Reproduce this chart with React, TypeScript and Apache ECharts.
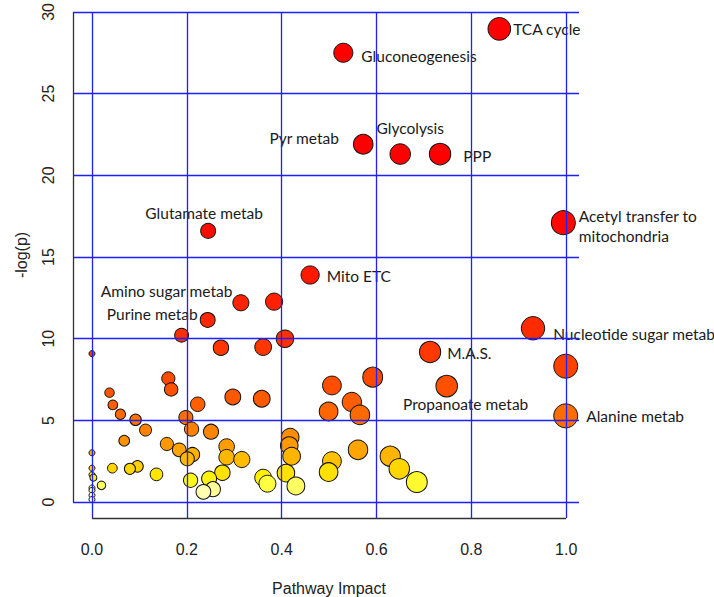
import React, { useEffect, useRef } from "react";
import * as echarts from "echarts";

// ---- data ----
const pathwayNames: string[] = [
  "TCA cycle", "Gluconeogenesis", "Pyr metab", "Glycolysis", "PPP",
  "Acetyl transfer to\nmitochondria", "Glutamate metab", "Mito ETC", "Amino sugar metab", "",
  "Purine metab", "", "", "", "",
  "Nucleotide sugar metab", "", "M.A.S.", "Alanine metab", "",
  "", "Propanoate metab", "", "", "",
  "", "", "", "", "",
  "", "", "", "", "",
  "", "", "", "", "",
  "", "", "", "", "",
  "", "", "", "", "",
  "", "", "", "", "",
  "", "", "", "", "",
  "", "", "", "", "",
  "", "", "", "", "",
  "", "", "", "", "",
  "", "", "",
];
const impact: number[] = [
  0.859, 0.530, 0.572, 0.650, 0.734,
  0.994, 0.245, 0.460, 0.314, 0.384,
  0.244, 0.189, 0.272, 0.361, 0.407,
  0.930, 0.999, 0.713, 0.999, 0.592,
  0.506, 0.748, 0.358, 0.499, 0.548,
  0.565, 0.418, 0.416, 0.421, 0.409,
  0.430, 0.361, 0.370, 0.506, 0.499,
  0.561, 0.629, 0.648, 0.685, 0.037,
  0.044, 0.060, 0.092, 0.113, 0.068,
  0.161, 0.167, 0.223, 0.198, 0.210,
  0.251, 0.297, 0.158, 0.184, 0.212,
  0.201, 0.284, 0.284, 0.316, 0.275,
  0.247, 0.255, 0.235, 0.208, 0.043,
  0.080, 0.096, 0.136, 0.020, 0.000,
  0.000, 0.000, 0.000, 0.003, 0.000,
  0.000, 0.000, 0.000,
];
const negLogP: number[] = [
  28.96, 27.50, 21.90, 21.30, 21.30,
  17.10, 16.60, 13.90, 12.20, 12.27,
  11.15, 10.22, 9.45, 9.49, 10.00,
  10.64, 8.32, 9.19, 5.28, 7.65,
  7.14, 7.10, 6.33, 5.55, 6.13,
  5.34, 3.97, 3.46, 2.81, 1.78,
  0.99, 1.50, 1.13, 2.51, 1.84,
  3.20, 2.81, 2.04, 1.23, 6.70,
  5.95, 5.38, 5.04, 4.41, 3.76,
  7.57, 6.90, 5.99, 5.18, 4.47,
  4.31, 6.44, 3.56, 3.20, 2.91,
  2.65, 3.40, 2.75, 2.61, 1.80,
  1.44, 0.79, 0.63, 1.34, 2.08,
  2.04, 2.19, 1.70, 1.03, 9.09,
  3.02, 2.08, 1.68, 1.50, 0.87,
  0.72, 0.42, 0.16,
];
const xTicks: number[] = [0, 0.2, 0.4, 0.6, 0.8, 1.0];
const yTicks: number[] = [0, 5, 10, 15, 20, 25, 30];

// ---- styling ----
const X_MIN = -0.04;
const X_MAX = 1.027;
const Y_MIN = -0.97;
const Y_MAX = 30;
const LABEL_FONT = "Lato";
const AXIS_FONT = "Liberation Sans";

const colorStops: [number, number[]][] = [
  [0.0, [255, 255, 255]],
  [0.5, [255, 255, 200]],
  [0.8, [255, 255, 150]],
  [1.1, [255, 255, 70]],
  [1.5, [255, 240, 0]],
  [2.0, [255, 216, 0]],
  [2.7, [255, 184, 0]],
  [3.5, [255, 152, 0]],
  [4.5, [255, 128, 0]],
  [5.5, [255, 102, 0]],
  [7.0, [255, 80, 0]],
  [9.0, [255, 58, 0]],
  [11.0, [255, 40, 0]],
  [14.0, [255, 24, 0]],
  [17.0, [255, 8, 0]],
  [20.0, [255, 0, 0]],
];
function heatColor(v: number): string {
  if (v <= colorStops[0][0]) return `rgb(${colorStops[0][1].join(",")})`;
  for (let i = 1; i < colorStops.length; i++) {
    const [v1, c1] = colorStops[i];
    const [v0, c0] = colorStops[i - 1];
    if (v <= v1) {
      const t = (v - v0) / (v1 - v0);
      const c = c0.map((a, k) => Math.round(a + (c1[k] - a) * t));
      return `rgb(${c.join(",")})`;
    }
  }
  return "rgb(255,0,0)";
}
function bubbleSize(x: number): number {
  return 6 + 18 * Math.sqrt(Math.max(0, x));
}

const labelPlacement: Record<string, { position: string; distance: number; offset: [number, number] }> = {
  "TCA cycle": { position: "right", distance: 2, offset: [0, 0] },
  "Gluconeogenesis": { position: "right", distance: 8, offset: [0, 3] },
  "Pyr metab": { position: "left", distance: 14, offset: [0, -6] },
  "Glycolysis": { position: "top", distance: 5, offset: [10, 0] },
  "PPP": { position: "right", distance: 12, offset: [0, 2] },
  "Acetyl transfer to\nmitochondria": { position: "right", distance: 3, offset: [0, 3] },
  "Glutamate metab": { position: "top", distance: 0, offset: [-4, 0] },
  "Mito ETC": { position: "right", distance: 7, offset: [0, 1] },
  "Amino sugar metab": { position: "left", distance: 0, offset: [0, -12] },
  "Purine metab": { position: "left", distance: 2, offset: [0, -6] },
  "Nucleotide sugar metab": { position: "right", distance: 8, offset: [0, 6] },
  "M.A.S.": { position: "right", distance: 6, offset: [0, 1] },
  "Propanoate metab": { position: "bottom", distance: -3, offset: [19, 0] },
  "Alanine metab": { position: "right", distance: 8, offset: [0, 0] },
};

export default function App() {
  const ref = useRef<HTMLDivElement>(null);
  useEffect(() => {
    if (!ref.current) return;
    const chart = echarts.init(ref.current, null, { renderer: "svg" });

    const order = impact.map((_, i) => i).sort((a, b) => negLogP[b] - negLogP[a]);
    const points = order.map((i) => {
      const name = pathwayNames[i] || "";
      const pl = labelPlacement[name];
      return {
        name,
        value: [impact[i], negLogP[i]],
        symbolSize: bubbleSize(impact[i]),
        itemStyle: { color: heatColor(negLogP[i]) },
        label: pl
          ? {
              show: true,
              formatter: name,
              position: pl.position,
              distance: pl.distance,
              offset: pl.offset,
              color: "#1a1a1a",
              fontFamily: LABEL_FONT,
              fontSize: 15.5,
              lineHeight: 20,
              align: pl.position === "right" ? "left" : pl.position === "left" ? "right" : "center",
            }
          : { show: false },
      };
    });

    const gridLines: any[] = [
      ...yTicks.map((v) => ({ yAxis: v })),
      ...xTicks.map((v) => ({ xAxis: v })),
    ];
    const axisLines: any[] = [
      [{ coord: [X_MIN, yTicks[0]] }, { coord: [X_MIN, yTicks[yTicks.length - 1]] }],
      [{ coord: [xTicks[0], Y_MIN] }, { coord: [xTicks[xTicks.length - 1], Y_MIN] }],
    ];

    chart.setOption({
      animation: false,
      backgroundColor: "#ffffff",
      grid: { left: 73, right: 135, top: 8, bottom: 79 },
      xAxis: {
        type: "value",
        min: X_MIN,
        max: X_MAX,
        axisLine: { show: false },
        splitLine: { show: false },
        axisTick: {
          show: true,
          customValues: xTicks,
          length: 10,
          lineStyle: { color: "#333", width: 1 },
        },
        axisLabel: {
          customValues: xTicks,
          formatter: (v: number) => v.toFixed(1),
          fontFamily: AXIS_FONT,
          fontSize: 16,
          color: "#222",
          margin: 23,
        },
      },
      yAxis: {
        type: "value",
        min: Y_MIN,
        max: Y_MAX,
        axisLine: { show: false },
        splitLine: { show: false },
        axisTick: {
          show: true,
          customValues: yTicks,
          length: 9,
          lineStyle: { color: "#333", width: 1 },
        },
        axisLabel: {
          customValues: yTicks,
          formatter: (v: number) => String(Math.round(v)),
          rotate: 90,
          fontFamily: AXIS_FONT,
          fontSize: 16,
          color: "#222",
          margin: 17,
        },
      },
      graphic: [
        {
          type: "text",
          x: 329,
          y: 588,
          style: {
            text: "Pathway Impact",
            fontFamily: AXIS_FONT,
            fontSize: 16,
            fill: "#222",
            align: "center",
            verticalAlign: "middle",
          },
        },
        {
          type: "text",
          x: 21,
          y: 255,
          rotation: Math.PI / 2,
          style: {
            text: "-log(p)",
            fontFamily: AXIS_FONT,
            fontSize: 16,
            fill: "#222",
            align: "center",
            verticalAlign: "middle",
          },
        },
      ],
      series: [
        {
          type: "scatter",
          data: [],
          clip: false,
          z: 1,
          markLine: {
            silent: true,
            symbol: "none",
            animation: false,
            label: { show: false },
            lineStyle: { color: "#1f1fff", width: 1.3, type: "solid" },
            data: gridLines,
          },
        },
        {
          type: "scatter",
          data: [],
          clip: false,
          z: 2,
          markLine: {
            silent: true,
            symbol: "none",
            animation: false,
            label: { show: false },
            lineStyle: { color: "#333", width: 1.3, type: "solid" },
            data: axisLines,
          },
        },
        {
          type: "scatter",
          z: 3,
          clip: false,
          data: points,
          itemStyle: { borderColor: "#111", borderWidth: 1, opacity: 1 },
          emphasis: { disabled: true },
        },
      ],
    });
    return () => chart.dispose();
  }, []);
  return (
    <div
      ref={ref}
      style={{ position: "fixed", left: 0, top: 0, width: 714, height: 597 }}
    />
  );
}
